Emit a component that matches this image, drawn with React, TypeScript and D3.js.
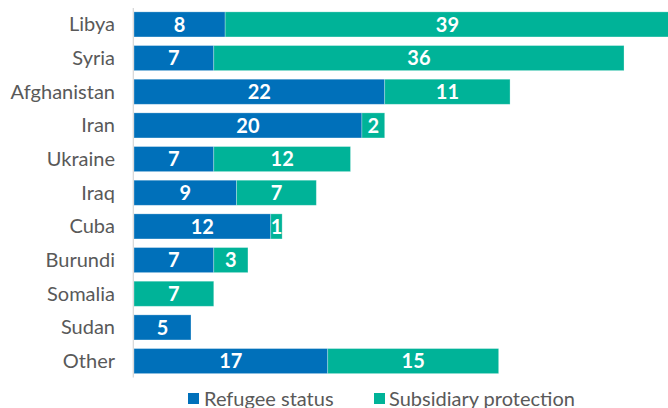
import React from "react";
import * as d3 from "d3";

const categories = ["Libya", "Syria", "Afghanistan", "Iran", "Ukraine", "Iraq", "Cuba", "Burundi", "Somalia", "Sudan", "Other"];
const refugeeStatus = [8, 7, 22, 20, 7, 9, 12, 7, 0, 5, 17];
const subsidiaryProtection = [39, 36, 11, 2, 12, 7, 1, 3, 7, 0, 15];
const seriesNames = ["Refugee status", "Subsidiary protection"];
const seriesColors = ["#0070BA", "#00B398"];

const W = 668;
const H = 408;

export default function App() {
  const x = d3.scaleLinear().domain([0, 47]).range([134, 669.6]);
  const y = d3
    .scaleBand<string>()
    .domain(categories)
    .range([7.5, 378])
    .paddingInner(0.255)
    .paddingOuter(0.13);

  const font = "Lato, 'Noto Sans', sans-serif";
  const rows = categories.map((c, i) => {
    const vals = [refugeeStatus[i], subsidiaryProtection[i]];
    let acc = 0;
    const segs = vals.map((v, k) => {
      const s = { k, v, x0: x(acc), x1: x(acc + v) };
      acc += v;
      return s;
    });
    return { c, segs };
  });

  return (
    <svg width={W} height={H} style={{ position: "absolute", left: 0, top: 0 }} fontFamily={font}>
      {rows.map((r) => {
        const yy = y(r.c)!;
        const bh = y.bandwidth();
        return (
          <g key={r.c}>
            <text x={115} y={yy + bh / 2} dy="0.35em" textAnchor="end" fontSize={20} fill="#595959">
              {r.c}
            </text>
            {r.segs
              .filter((s) => s.v > 0)
              .map((s) => (
                <g key={s.k}>
                  <rect x={s.x0} y={yy} width={s.x1 - s.x0} height={bh} fill={seriesColors[s.k]} stroke="#ffffff" strokeOpacity={0.35} strokeWidth={0.8} />
                  <text
                    x={(s.x0 + s.x1) / 2}
                    y={yy + bh / 2}
                    dy="0.36em"
                    textAnchor="middle"
                    fontSize={20}
                    fontWeight="bold"
                    fill="#ffffff"
                  >
                    {s.v}
                  </text>
                </g>
              ))}
          </g>
        );
      })}
      <line x1={133.3} x2={133.3} y1={8} y2={377.5} stroke="#d9d9d9" strokeWidth={1.3} />
      <g>
        <rect x={188} y={393} width={11} height={11} fill={seriesColors[0]} />
        <text x={204} y={398.5} dy="0.36em" fontSize={20} fill="#595959">
          {seriesNames[0]}
        </text>
        <rect x={374} y={393} width={11} height={11} fill={seriesColors[1]} />
        <text x={389} y={398.5} dy="0.36em" fontSize={20} fill="#595959">
          {seriesNames[1]}
        </text>
      </g>
    </svg>
  );
}
